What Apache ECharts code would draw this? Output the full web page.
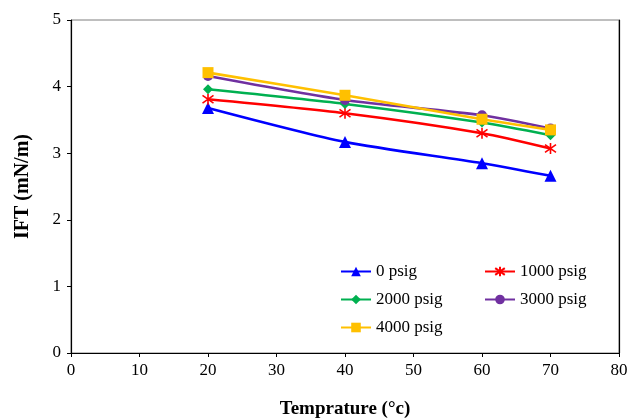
<!DOCTYPE html>
<html>
<head>
<meta charset="utf-8">
<script src="https://cdn.jsdelivr.net/npm/echarts@6/dist/echarts.min.js"></script>
<style>
  html, body { margin: 0; padding: 0; background: #fff; }
  #chart { width: 628px; height: 418px; }
</style>
</head>
<body>
<div id="chart"></div>
<script>
// Temperature (°C) at which IFT was measured
const temperatures = [20, 40, 60, 70];

// IFT (mN/m) for each pressure
const ift0psig    = [3.68, 3.17, 2.85, 2.66];
const ift1000psig = [3.81, 3.60, 3.30, 3.07];
const ift2000psig = [3.96, 3.74, 3.46, 3.27];
const ift3000psig = [4.16, 3.80, 3.57, 3.37];
const ift4000psig = [4.21, 3.87, 3.51, 3.35];

const seriesNames = ['0 psig', '1000 psig', '2000 psig', '3000 psig', '4000 psig'];

const xTicks = [0, 10, 20, 30, 40, 50, 60, 70, 80];
const yTicks = [0, 1, 2, 3, 4, 5];

const serif = '"Liberation Serif", "Times New Roman", serif';

// asterisk marker: two diagonals and a vertical stroke
const starPath = 'path://M5,0L5,10M0.7,1.5L9.3,8.5M0.7,8.5L9.3,1.5';

function pairs(values) {
  return temperatures.map((t, i) => [t, values[i]]);
}

function lineSeries(name, values, color, symbol, size, extra) {
  return Object.assign({
    name: name,
    type: 'line',
    data: pairs(values),
    smooth: 0.25,
    symbol: symbol,
    symbolSize: size,
    showAllSymbol: true,
    lineStyle: { color: color, width: 2.6 },
    itemStyle: { color: color },
    emphasis: { disabled: true }
  }, extra || {});
}

const chart = echarts.init(document.getElementById('chart'), null, { renderer: 'canvas' });

const legendBase = {
  orient: 'vertical',
  top: 258,
  itemWidth: 30,
  itemHeight: 12,
  itemGap: 11,
  textStyle: { fontFamily: serif, fontSize: 17, color: '#000' },
  selectedMode: false
};

chart.setOption({
  animation: false,
  backgroundColor: '#fff',
  grid: {
    left: 71, right: 9, top: 20, bottom: 65,
    outerBoundsMode: 'none',
    containLabel: false,
    show: true, borderColor: '#7f7f7f', borderWidth: 1, backgroundColor: 'transparent'
  },
  legend: [
    Object.assign({}, legendBase, { left: 335, data: [seriesNames[0], seriesNames[2], seriesNames[4]] }),
    Object.assign({}, legendBase, { left: 479, data: [seriesNames[1], seriesNames[3]] })
  ],
  xAxis: {
    type: 'value',
    min: xTicks[0], max: xTicks[xTicks.length - 1], interval: 10,
    name: 'Temprature (°c)',
    nameLocation: 'middle',
    nameGap: 47,
    nameTextStyle: { fontFamily: serif, fontSize: 19, fontWeight: 'bold', color: '#000' },
    axisLine: { show: true, onZero: false, lineStyle: { color: '#000', width: 1.2 } },
    axisTick: { show: true, inside: false, length: 4, lineStyle: { color: '#000' } },
    axisLabel: { fontFamily: serif, fontSize: 17, color: '#000', margin: 9 },
    splitLine: { show: false }
  },
  yAxis: [{
    type: 'value',
    min: yTicks[0], max: yTicks[yTicks.length - 1], interval: 1,
    name: 'IFT (mN/m)',
    nameLocation: 'middle',
    nameGap: 38,
    nameTextStyle: { fontFamily: serif, fontSize: 20, fontWeight: 'bold', color: '#000' },
    axisLine: { show: true, onZero: false, lineStyle: { color: '#000', width: 1.2 } },
    axisTick: { show: true, inside: false, length: 4, lineStyle: { color: '#000' } },
    axisLabel: { fontFamily: serif, fontSize: 17, color: '#000', margin: 10 },
    splitLine: { show: false }
  }, {
    // right frame edge
    type: 'value',
    position: 'right',
    min: yTicks[0], max: yTicks[yTicks.length - 1], interval: 1,
    axisLine: { show: true, onZero: false, lineStyle: { color: '#000', width: 1.2 } },
    axisTick: { show: false },
    axisLabel: { show: false },
    splitLine: { show: false }
  }],
  series: [
    lineSeries(seriesNames[0], ift0psig, '#0000ff', 'triangle', 12),
    lineSeries(seriesNames[1], ift1000psig, '#ff0000', starPath, 11, {
      itemStyle: { color: '#ff0000', borderColor: '#ff0000', borderWidth: 1.6 }
    }),
    lineSeries(seriesNames[2], ift2000psig, '#00b050', 'diamond', 10),
    lineSeries(seriesNames[3], ift3000psig, '#7030a0', 'circle', 10),
    lineSeries(seriesNames[4], ift4000psig, '#ffc000', 'rect', 11)
  ]
});
</script>
</body>
</html>
